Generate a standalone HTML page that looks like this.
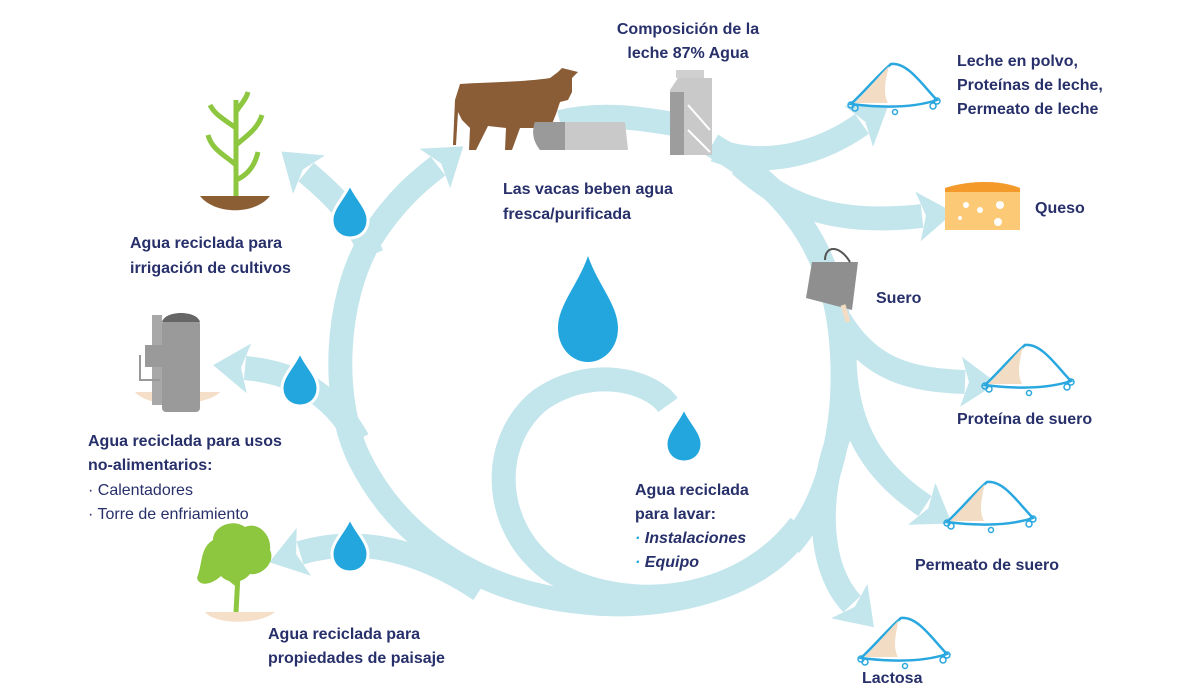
<!DOCTYPE html>
<html><head><meta charset="utf-8"><style>
html,body{margin:0;padding:0;background:#fff;}
svg{display:block}
text{font-family:"Liberation Sans",sans-serif;fill:#27306a;font-weight:bold;font-size:16px}
.n{font-weight:normal}
.i{font-style:italic}
</style></head><body>
<svg width="1199" height="686" viewBox="0 0 1199 686" xmlns="http://www.w3.org/2000/svg">
<defs>
<marker id="a" markerUnits="userSpaceOnUse" markerWidth="36" markerHeight="50" viewBox="0 0 36 50" refX="4" refY="25" orient="auto">
<path d="M0 0 L36 25 L0 50 L8 25 Z" fill="#c3e5ec"/>
</marker>
<path id="drop" d="M0 -28 C6 -14 18 -4 18 8 C18 19 10 26 0 26 C-10 26 -18 19 -18 8 C-18 -4 -6 -14 0 -28 Z"/>
<g id="pile">
<path d="M-42 18 C-28 5 -16 -10 -2 -22 C15 -24 30 0 44 14 C20 22 -10 22 -42 18Z" fill="#fff" stroke="#29a7df" stroke-width="2.5"/>
<path d="M-39 17 C-26 5 -16 -8 -4 -20 C-8 -5 -10 8 -5 17 Z" fill="#f2ddc4"/>
<circle cx="-42" cy="19" r="3" fill="none" stroke="#29a7df" stroke-width="1.5"/>
<circle cx="-38" cy="22" r="3" fill="none" stroke="#29a7df" stroke-width="1.5"/>
<circle cx="40" cy="20" r="3" fill="none" stroke="#29a7df" stroke-width="1.5"/>
<circle cx="44" cy="15" r="3" fill="none" stroke="#29a7df" stroke-width="1.5"/>
<circle cx="2" cy="26" r="2.5" fill="none" stroke="#29a7df" stroke-width="1.5"/>
</g>
</defs>
<g fill="none" stroke="#c3e5ec" stroke-width="24" stroke-linecap="butt">
<path d="M712 145 C790 190 830 250 840 330 C850 420 830 500 790 545"/>
<path d="M800 530 C760 590 660 612 580 602 C480 592 400 540 360 460 C330 400 335 300 370 240 C395 200 420 180 438 166" marker-end="url(#a)"/>
<path d="M800 525 C740 605 620 615 550 570 C490 525 490 440 540 400 C590 365 650 380 668 405"/>
<path d="M372 255 C355 215 330 192 306 172" marker-end="url(#a)"/>
<path d="M358 440 C330 390 290 372 245 368" marker-end="url(#a)"/>
<path d="M480 590 C420 550 360 535 300 553" marker-end="url(#a)"/>
<path d="M560 122 C600 112 640 118 680 125"/>
<path d="M715 150 C770 170 825 150 862 124" marker-end="url(#a)"/>
<path d="M740 165 C790 210 840 225 922 216" marker-end="url(#a)"/>
<path d="M840 320 C870 370 910 380 965 382" marker-end="url(#a)"/>
<path d="M845 335 C840 420 870 470 925 506" marker-end="url(#a)"/>
<path d="M845 420 C812 500 820 570 852 604" marker-end="url(#a)"/>
</g>
<g fill="#23a6de" stroke="#fff" stroke-width="3">
<use href="#drop" x="350" y="212"/>
<use href="#drop" x="300" y="380"/>
<use href="#drop" x="350" y="546"/>
<use href="#drop" x="684" y="436"/>
</g>
<path d="M588 256 C598 285 618 305 618 328 C618 348 604 362 588 362 C572 362 558 348 558 328 C558 305 578 285 588 256Z" fill="#23a6de"/>
<!-- cow -->
<path d="M460 84 C490 82 525 82 550 78 L558 72 L562 68 L570 70 L578 72 L572 78 L572 92 L568 100 L560 102 L556 114 L552 124 L548 150 L541 150 L540 128 L520 128 L512 150 L505 150 L506 128 L488 126 L476 150 L469 150 L470 128 L462 120 L458 112 L456 145 L453 145 L455 100 Z" fill="#8a5d36"/>
<path d="M535 122 L625 122 L628 150 L540 150 C532 140 532 130 535 122Z" fill="#c9c9c9"/>
<path d="M535 122 L565 122 L565 150 L540 150 C532 140 532 130 535 122Z" fill="#9a9a9a"/>
<!-- carton -->
<rect x="676" y="70" width="28" height="8" fill="#d0d0d0"/>
<path d="M670 90 L678 78 L712 78 L712 155 L670 155Z" fill="#c9c9c9"/>
<rect x="670" y="92" width="14" height="63" fill="#9d9d9d"/>
<path d="M688 105 L710 130 M688 130 L710 152" stroke="#fff" stroke-width="2"/>
<!-- corn -->
<path d="M200 196 L270 196 C255 215 215 215 200 196Z" fill="#8b5e34"/>
<g stroke="#8dc63f" stroke-width="5" fill="none">
<path d="M236 196 L236 100"/>
<path d="M236 165 C225 155 212 150 208 135"/>
<path d="M236 145 C248 135 258 128 262 115"/>
<path d="M236 128 C225 120 215 115 210 105"/>
<path d="M236 180 C248 175 255 165 258 152"/>
<path d="M236 112 C240 105 246 100 248 92"/>
</g>
<!-- heater -->
<path d="M135 392 L220 392 C210 405 150 410 135 392Z" fill="#f5dfc8"/>
<rect x="162" y="320" width="38" height="92" rx="4" fill="#9a9a9a"/>
<path d="M162 322 C165 310 197 310 200 322Z" fill="#666"/>
<rect x="152" y="315" width="10" height="90" fill="#a8a8a8"/>
<rect x="145" y="345" width="22" height="22" fill="#9a9a9a"/>
<path d="M140 355 L140 380 L160 380" stroke="#999" stroke-width="2" fill="none"/>
<!-- tree -->
<path d="M205 612 L275 612 C260 625 215 625 205 612Z" fill="#f5dfc8"/>
<path d="M236 612 L238 575 L252 562 M238 585 L222 572" stroke="#8dc63f" stroke-width="5" fill="none"/>
<path d="M197 578 C203 562 200 548 213 540 C213 526 233 518 245 527 C258 521 272 535 270 550 C276 562 262 576 250 574 C240 586 226 582 221 576 C210 586 199 586 197 578Z" fill="#8dc63f"/>
<!-- cheese -->
<path d="M945 188 C970 180 1000 180 1020 188 L1020 230 L945 230Z" fill="#fcc976"/>
<path d="M945 188 C970 180 1000 180 1020 188 L1020 192 L945 192Z" fill="#f39a2b"/>
<g fill="#fff"><circle cx="966" cy="205" r="3"/><circle cx="1000" cy="205" r="4"/><circle cx="998" cy="222" r="4"/><circle cx="960" cy="218" r="2"/><circle cx="980" cy="210" r="3"/></g>
<!-- bucket -->
<path d="M812 262 L858 262 L852 310 L806 298Z" fill="#8f8f8f"/>
<path d="M825 260 C825 245 840 245 850 262" stroke="#555" stroke-width="2" fill="none"/>
<path d="M843 305 L848 322" stroke="#f2ddc4" stroke-width="5"/>
<!-- piles -->
<use href="#pile" x="893" y="86"/>
<use href="#pile" x="1027" y="367"/>
<use href="#pile" x="989" y="504"/>
<use href="#pile" x="903" y="640"/>
<!-- text -->
<text x="688" y="34" text-anchor="middle" font-size="17">Composición de la</text>
<text x="688" y="58" text-anchor="middle" font-size="17">leche 87% Agua</text>
<text x="957" y="66">Leche en polvo,</text>
<text x="957" y="90">Proteínas de leche,</text>
<text x="957" y="114">Permeato de leche</text>
<text x="1035" y="213">Queso</text>
<text x="876" y="303">Suero</text>
<text x="957" y="424">Proteína de suero</text>
<text x="915" y="570">Permeato de suero</text>
<text x="862" y="683">Lactosa</text>
<text x="503" y="194">Las vacas beben agua</text>
<text x="503" y="219">fresca/purificada</text>
<text x="130" y="248">Agua reciclada para</text>
<text x="130" y="273">irrigación de cultivos</text>
<text x="88" y="446">Agua reciclada para usos</text>
<text x="88" y="470">no-alimentarios:</text>
<text x="88" y="495" class="n">· Calentadores</text>
<text x="88" y="519" class="n">· Torre de enfriamiento</text>
<text x="635" y="495">Agua reciclada</text>
<text x="635" y="519">para lavar:</text>
<text x="635" y="543" class="i"><tspan fill="#23a6de">·</tspan> Instalaciones</text>
<text x="635" y="567" class="i"><tspan fill="#23a6de">·</tspan> Equipo</text>
<text x="268" y="639">Agua reciclada para</text>
<text x="268" y="663">propiedades de paisaje</text>
</svg>
</body></html>
